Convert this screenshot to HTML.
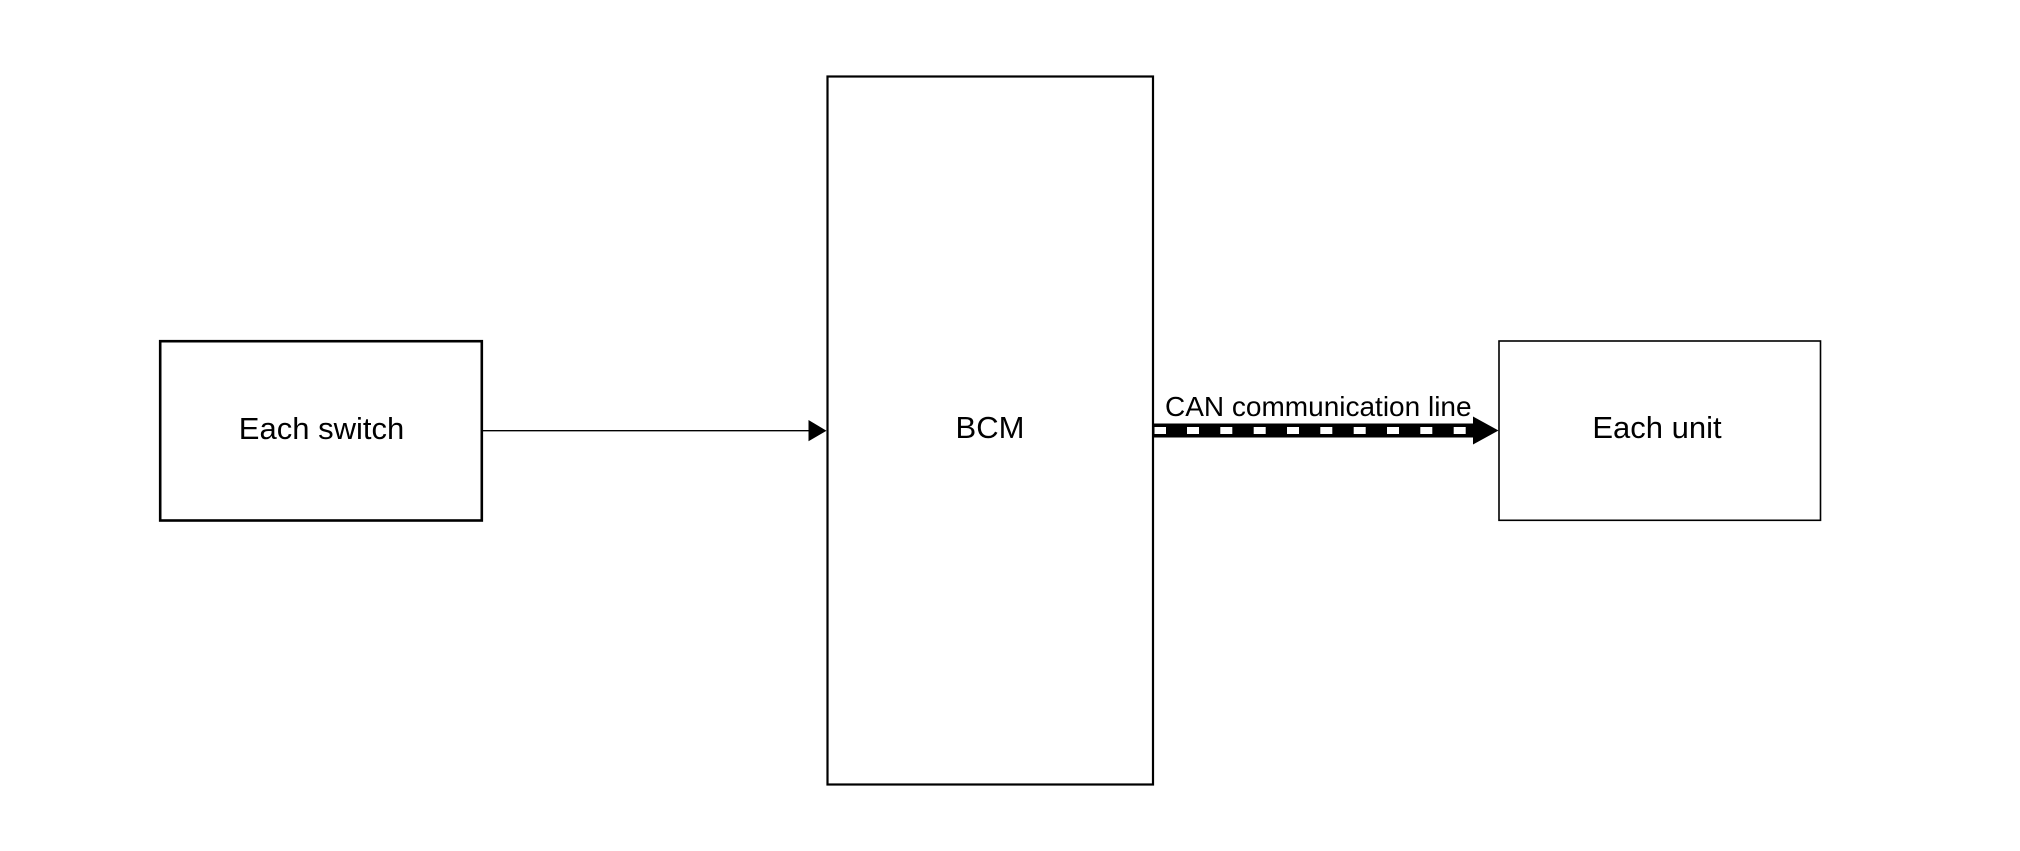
<!DOCTYPE html>
<html>
<head>
<meta charset="utf-8">
<style>
  html, body { margin: 0; padding: 0; background: #ffffff; }
  body { width: 2020px; height: 851px; overflow: hidden; }
  svg { display: block; }
  text { font-family: "Liberation Sans", Arial, sans-serif; fill: #000; }
</style>
</head>
<body>
<svg width="2020" height="851" viewBox="0 0 2020 851" xmlns="http://www.w3.org/2000/svg">
  <rect x="0" y="0" width="2020" height="851" fill="#ffffff"/>

  <!-- Each switch box -->
  <rect x="160.2" y="341.2" width="321.6" height="179.3" fill="none" stroke="#000" stroke-width="2.6"/>
  <text x="321.5" y="439" font-size="31" text-anchor="middle">Each switch</text>

  <!-- Arrow from Each switch to BCM -->
  <line x1="482" y1="430.7" x2="812" y2="430.7" stroke="#000" stroke-width="1.4"/>
  <polygon points="808.5,420 826.5,430.7 808.5,441.2" fill="#000"/>

  <!-- BCM box -->
  <rect x="827.5" y="76.5" width="325.5" height="708" fill="none" stroke="#000" stroke-width="2.2"/>
  <text x="990" y="438" font-size="31" text-anchor="middle">BCM</text>

  <!-- CAN communication line -->
  <text x="1165" y="416" font-size="28">CAN communication line</text>
  <rect x="1153.5" y="423.5" width="322" height="14" fill="#000"/>
  <g fill="#fff">
    <rect x="1154.5" y="427" width="11.5" height="7"/>
    <rect x="1187" y="427" width="12" height="7"/>
    <rect x="1220.3" y="427" width="12" height="7"/>
    <rect x="1253.7" y="427" width="12" height="7"/>
    <rect x="1287" y="427" width="12" height="7"/>
    <rect x="1320.3" y="427" width="12" height="7"/>
    <rect x="1353.7" y="427" width="12" height="7"/>
    <rect x="1387" y="427" width="12" height="7"/>
    <rect x="1420.3" y="427" width="12" height="7"/>
    <rect x="1453.7" y="427" width="12" height="7"/>
  </g>
  <polygon points="1473,416.5 1498.5,430.5 1473,444.5" fill="#000"/>

  <!-- Each unit box -->
  <rect x="1499" y="341" width="321.5" height="179.3" fill="none" stroke="#000" stroke-width="1.6"/>
  <text x="1657" y="438" font-size="31" text-anchor="middle">Each unit</text>
</svg>
</body>
</html>
